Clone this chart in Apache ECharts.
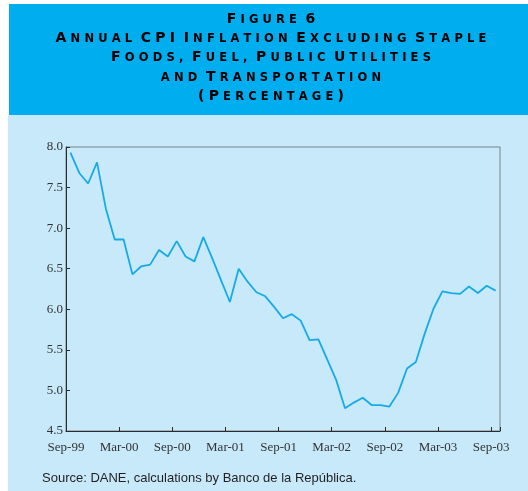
<!DOCTYPE html>
<html>
<head>
<meta charset="utf-8">
<script src="https://cdn.jsdelivr.net/npm/echarts@6/dist/echarts.min.js"></script>
<style>
  html, body { margin: 0; padding: 0; background: #fff; }
  #main { width: 528px; height: 491px; }
</style>
</head>
<body>
<div id="main"></div>
<script>
// monthly values, Sep-99 .. Sep-03 (annual %, core CPI ex. staples, fuel, utilities, transport)
var cpiCore = [7.93, 7.68, 7.55, 7.81, 7.24, 6.86, 6.86, 6.43, 6.53, 6.55, 6.73, 6.65,
  6.84, 6.65, 6.59, 6.89, 6.63, 6.36, 6.09, 6.50, 6.34, 6.21, 6.16, 6.03,
  5.89, 5.94, 5.86, 5.62, 5.63, 5.38, 5.13, 4.78, 4.85, 4.91, 4.82, 4.82,
  4.80, 4.97, 5.27, 5.35, 5.70, 6.01, 6.22, 6.20, 6.19, 6.28, 6.20, 6.29, 6.23];
// one label every 6 months
var tickLabels = ['Sep-99', 'Mar-00', 'Sep-00', 'Mar-01', 'Sep-01', 'Mar-02', 'Sep-02', 'Mar-03', 'Sep-03'];
var titleLines = ['Figure 6', 'Annual CPI Inflation Excluding Staple', 'Foods, Fuel, Public Utilities',
  'and Transportation', '(Percentage)'];
var sourceText = 'Source: DANE, calculations by Banco de la República.';

// fake small caps: big letters for capitals, smaller for the rest, each letter padded (tracking)
function smallCaps(str) {
  var out = '';
  for (var i = 0; i < str.length; i++) {
    var c = str[i];
    if (c === ' ') out += '{W| }';
    else if (c === c.toUpperCase() && c !== ',') out += '{C|' + c + '}';
    else out += '{S|' + c.toUpperCase() + '}';
  }
  return out;
}
var capsRich = {
  C: { fontSize: 14, fontWeight: 'bold', fontFamily: 'DejaVu Sans', color: '#fff', padding: [0, 2.1], verticalAlign: 'bottom' },
  S: { fontSize: 11.5, fontWeight: 'bold', fontFamily: 'DejaVu Sans', color: '#fff', padding: [0, 2.1], verticalAlign: 'bottom' },
  W: { fontSize: 14, fontFamily: 'DejaVu Sans', color: '#fff', padding: [0, 0] }
};

var titleY = [19, 38, 57, 77, 96];
var graphics = [
  { type: 'rect', shape: { x: 8, y: 115, width: 520, height: 376 }, style: { fill: '#c7e9fa' }, z: -10 },
  { type: 'rect', shape: { x: 9, y: 4, width: 519, height: 111 }, style: { fill: '#00aeef' }, z: -10 }
];
titleLines.forEach(function (t, k) {
  graphics.push({
    type: 'text', x: 271, y: titleY[k],
    style: { text: smallCaps(t), rich: capsRich, align: 'center', verticalAlign: 'middle' }
  });
});
graphics.push({
  type: 'text', x: 42, y: 478,
  style: { text: sourceText, fill: '#231f20', fontSize: 13, fontFamily: 'Liberation Sans', align: 'left', verticalAlign: 'middle' }
});

var myChart = echarts.init(document.getElementById('main'));
var option = {
  backgroundColor: '#fff',
  animation: false,
  graphic: graphics,
  grid: {
    left: 66, right: 28, top: 147, bottom: 60,
    show: true, borderColor: '#74818a', borderWidth: 1, backgroundColor: 'transparent'
  },
  xAxis: {
    type: 'value',
    min: 0, max: 49, interval: 6,
    axisLine: { show: true, lineStyle: { color: '#2b2b2b', width: 1 } },
    axisTick: { show: true, inside: true, length: 4, lineStyle: { color: '#2b2b2b' } },
    axisLabel: {
      margin: 10, fontFamily: 'Liberation Serif', fontSize: 13, color: '#333',
      formatter: function (v) { return v % 6 === 0 ? tickLabels[v / 6] : ''; }
    },
    splitLine: { show: false }
  },
  yAxis: {
    type: 'value',
    min: 4.5, max: 8, interval: 0.5,
    axisLine: { show: true, lineStyle: { color: '#2b2b2b', width: 1 } },
    axisTick: { show: true, inside: true, length: 4, lineStyle: { color: '#2b2b2b' } },
    axisLabel: {
      margin: 3, fontFamily: 'Liberation Serif', fontSize: 13, color: '#333',
      formatter: function (v) { return v.toFixed(1); }
    },
    splitLine: { show: false }
  },
  series: [{
    type: 'line',
    data: cpiCore.map(function (v, i) { return [i + 0.5, v]; }),
    showSymbol: false,
    lineStyle: { color: '#17abe6', width: 1.8 }
  }]
};
myChart.setOption(option);
</script>
</body>
</html>
